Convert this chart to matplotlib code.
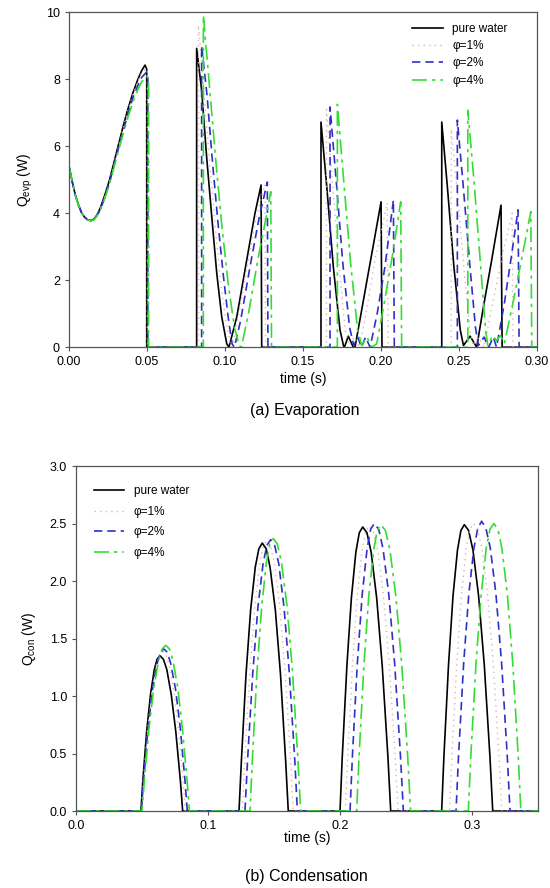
import numpy as np
import matplotlib
matplotlib.use('Agg')
import matplotlib.pyplot as plt

plt.rcParams['font.family'] = ['Liberation Sans', 'DejaVu Sans']
plt.rcParams['mathtext.fontset'] = 'custom'
plt.rcParams['mathtext.rm'] = 'Liberation Sans'

# ---------------- (a) Evaporation: Q_evp (W) vs time (s) ----------------
t_start = [0.000, 0.002, 0.004, 0.006, 0.008, 0.010, 0.012, 0.014, 0.016, 0.018, 0.020,
           0.023, 0.026, 0.029, 0.032, 0.035, 0.038, 0.041, 0.044, 0.0465]

t_evp_pure = t_start + [0.0487, 0.0498, 0.0498,
              0.0818, 0.0818, 0.0850, 0.0882, 0.0915, 0.0947, 0.0979, 0.1011, 0.1025, 0.1075, 0.1139, 0.1192, 0.1231, 0.1235,
              0.1615, 0.1615, 0.1652, 0.1694, 0.1737, 0.1759, 0.1765, 0.1790, 0.1822, 0.1833, 0.1865, 0.1908, 0.1951, 0.2000, 0.2006,
              0.2389, 0.2389, 0.2425, 0.2467, 0.2508, 0.2528, 0.2571, 0.2613, 0.2656, 0.2709, 0.2769, 0.2776, 0.3000]
q_evp_pure = [5.40, 4.95, 4.55, 4.25, 4.02, 3.88, 3.80, 3.78, 3.82, 3.95, 4.15,
              4.55, 5.00, 5.55, 6.10, 6.65, 7.15, 7.60, 7.98, 8.25,
              8.42, 8.30, 0.0,
              0.0, 8.92, 7.67, 5.68, 3.89, 2.20, 0.90, 0.10, 0.0, 0.90, 2.60, 4.00, 4.84, 0.0,
              0.0, 6.72, 4.79, 2.40, 0.51, 0.05, 0.0, 0.33, 0.0, 0.0, 0.83, 1.95, 3.06, 4.34, 0.0,
              0.0, 6.72, 4.79, 2.40, 0.51, 0.05, 0.33, 0.0, 1.20, 2.60, 4.24, 0.0, 0.0]

t_evp_1 = t_start + [0.0492, 0.0502, 0.0502,
           0.0830, 0.0830, 0.0865, 0.0900, 0.0935, 0.0970, 0.1005, 0.1035, 0.1045, 0.1085, 0.1150, 0.1200, 0.1255, 0.1260,
           0.1650, 0.1650, 0.1688, 0.1730, 0.1770, 0.1795, 0.1830, 0.1860, 0.1900, 0.1960, 0.2040, 0.2046,
           0.2450, 0.2450, 0.2488, 0.2530, 0.2570, 0.2590, 0.2625, 0.2660, 0.2710, 0.2780, 0.2840, 0.2846, 0.3000]
q_evp_1 = [5.40, 4.95, 4.55, 4.25, 4.02, 3.88, 3.80, 3.78, 3.82, 3.95, 4.12,
           4.50, 4.95, 5.50, 6.05, 6.60, 7.10, 7.55, 7.92, 8.18,
           8.32, 8.20, 0.0,
           0.0, 9.60, 7.60, 5.60, 3.70, 2.00, 0.80, 0.05, 0.0, 0.90, 2.60, 3.90, 4.85, 0.0,
           0.0, 7.10, 5.00, 2.50, 0.50, 0.05, 0.30, 0.0, 0.90, 2.60, 4.30, 0.0,
           0.0, 6.50, 4.70, 2.40, 0.50, 0.05, 0.30, 0.0, 1.20, 2.80, 4.00, 0.0, 0.0]

t_evp_2 = t_start + [0.0495, 0.0505, 0.0505,
           0.0850, 0.0850, 0.0885, 0.0920, 0.0955, 0.0990, 0.1020, 0.1045, 0.1060, 0.1100, 0.1160, 0.1220, 0.1271, 0.1275,
           0.1673, 0.1673, 0.1712, 0.1755, 0.1798, 0.1825, 0.1850, 0.1875, 0.1900, 0.1930, 0.1975, 0.2025, 0.2079, 0.2085,
           0.2489, 0.2489, 0.2527, 0.2570, 0.2605, 0.2624, 0.2660, 0.2690, 0.2720, 0.2740, 0.2790, 0.2835, 0.2878, 0.2885, 0.3000]
q_evp_2 = [5.40, 4.95, 4.55, 4.25, 4.02, 3.88, 3.80, 3.78, 3.82, 3.94, 4.10,
           4.48, 4.92, 5.45, 6.00, 6.50, 7.00, 7.45, 7.80, 8.05,
           8.20, 8.10, 0.0,
           0.0, 9.00, 7.50, 5.50, 3.70, 2.10, 0.90, 0.10, 0.0, 0.80, 2.40, 3.90, 4.93, 0.0,
           0.0, 7.17, 5.00, 2.50, 0.60, 0.05, 0.30, 0.0, 0.30, 0.0, 1.00, 2.40, 4.39, 0.0,
           0.0, 6.78, 4.80, 2.40, 0.60, 0.05, 0.30, 0.0, 0.30, 0.0, 1.30, 2.70, 4.10, 0.0, 0.0]

t_evp_4 = t_start + [0.0500, 0.0510, 0.0510,
           0.0861, 0.0861, 0.0900, 0.0940, 0.0980, 0.1020, 0.1060, 0.1090, 0.1105, 0.1150, 0.1210, 0.1260, 0.1293, 0.1298,
           0.1720, 0.1720, 0.1760, 0.1805, 0.1850, 0.1876, 0.1910, 0.1940, 0.1972, 0.2020, 0.2075, 0.2126, 0.2132,
           0.2556, 0.2556, 0.2595, 0.2637, 0.2670, 0.2685, 0.2715, 0.2740, 0.2765, 0.2790, 0.2840, 0.2900, 0.2960, 0.2966, 0.3000]
q_evp_4 = [5.40, 4.95, 4.55, 4.25, 4.02, 3.88, 3.80, 3.77, 3.80, 3.92, 4.08,
           4.45, 4.88, 5.40, 5.92, 6.42, 6.90, 7.33, 7.68, 7.92,
           8.10, 8.00, 0.0,
           0.0, 9.90, 7.80, 5.60, 3.60, 1.90, 0.60, 0.05, 0.0, 1.00, 2.60, 3.80, 4.64, 0.0,
           0.0, 7.25, 5.00, 2.50, 0.50, 0.05, 0.30, 0.0, 0.10, 1.30, 2.80, 4.34, 0.0,
           0.0, 7.07, 5.00, 2.50, 0.50, 0.05, 0.35, 0.20, 0.35, 0.10, 1.20, 2.60, 4.05, 0.0, 0.0]

# ---------------- (b) Condensation: Q_con (W) vs time (s) ----------------
t_con_pure = [0.0, 0.0492, 0.0506, 0.0535, 0.0564, 0.0593, 0.0614, 0.0636, 0.0662, 0.0688, 0.0722, 0.0756, 0.0791, 0.0808,
              0.1235, 0.1253, 0.1288, 0.1323, 0.1358, 0.1385, 0.1411, 0.1441, 0.1470, 0.1510, 0.1549, 0.1588, 0.1608,
              0.2000, 0.2017, 0.2052, 0.2086, 0.2120, 0.2146, 0.2172, 0.2204, 0.2236, 0.2278, 0.2320, 0.2363, 0.2384,
              0.2770, 0.2787, 0.2822, 0.2856, 0.2890, 0.2916, 0.2942, 0.2974, 0.3007, 0.3050, 0.3093, 0.3136, 0.3157, 0.35]
q_con_pure = [0.0, 0.0, 0.26, 0.69, 1.01, 1.23, 1.32, 1.35, 1.32, 1.23, 1.01, 0.69, 0.26, 0.0,
              0.0, 0.44, 1.19, 1.75, 2.12, 2.28, 2.33, 2.28, 2.12, 1.75, 1.19, 0.44, 0.0,
              0.0, 0.47, 1.26, 1.85, 2.25, 2.42, 2.47, 2.42, 2.25, 1.85, 1.26, 0.47, 0.0,
              0.0, 0.47, 1.27, 1.87, 2.27, 2.44, 2.49, 2.44, 2.27, 1.87, 1.27, 0.47, 0.0, 0.0]

t_con_1 = [0.0, 0.0494, 0.0510, 0.0542, 0.0575, 0.0607, 0.0631, 0.0655, 0.0681, 0.0707, 0.0742, 0.0776, 0.0811, 0.0828,
           0.1260, 0.1279, 0.1316, 0.1353, 0.1390, 0.1417, 0.1445, 0.1475, 0.1505, 0.1545, 0.1585, 0.1625, 0.1645,
           0.2040, 0.2058, 0.2094, 0.2130, 0.2166, 0.2193, 0.2220, 0.2253, 0.2286, 0.2330, 0.2374, 0.2418, 0.2440,
           0.2830, 0.2848, 0.2884, 0.2920, 0.2956, 0.2983, 0.3010, 0.3042, 0.3075, 0.3118, 0.3161, 0.3204, 0.3225, 0.35]
q_con_1 = [0.0, 0.0, 0.26, 0.71, 1.04, 1.26, 1.36, 1.39, 1.36, 1.26, 1.04, 0.71, 0.26, 0.0,
           0.0, 0.45, 1.20, 1.76, 2.14, 2.30, 2.35, 2.30, 2.14, 1.76, 1.20, 0.45, 0.0,
           0.0, 0.47, 1.26, 1.86, 2.26, 2.43, 2.48, 2.43, 2.26, 1.86, 1.26, 0.47, 0.0,
           0.0, 0.48, 1.28, 1.88, 2.28, 2.45, 2.50, 2.45, 2.28, 1.88, 1.28, 0.48, 0.0, 0.0]

t_con_2 = [0.0, 0.0495, 0.0512, 0.0546, 0.0580, 0.0614, 0.0640, 0.0665, 0.0692, 0.0718, 0.0754, 0.0790, 0.0825, 0.0843,
           0.1280, 0.1300, 0.1339, 0.1378, 0.1417, 0.1446, 0.1475, 0.1505, 0.1536, 0.1576, 0.1616, 0.1657, 0.1677,
           0.2076, 0.2094, 0.2131, 0.2168, 0.2205, 0.2232, 0.2260, 0.2293, 0.2326, 0.2370, 0.2414, 0.2458, 0.2480,
           0.2879, 0.2898, 0.2937, 0.2976, 0.3015, 0.3044, 0.3073, 0.3105, 0.3138, 0.3181, 0.3224, 0.3267, 0.3288, 0.35]
q_con_2 = [0.0, 0.0, 0.27, 0.72, 1.06, 1.28, 1.38, 1.41, 1.38, 1.28, 1.06, 0.72, 0.27, 0.0,
           0.0, 0.45, 1.20, 1.77, 2.15, 2.31, 2.36, 2.31, 2.15, 1.77, 1.20, 0.45, 0.0,
           0.0, 0.48, 1.28, 1.88, 2.28, 2.45, 2.50, 2.45, 2.28, 1.88, 1.28, 0.48, 0.0,
           0.0, 0.48, 1.29, 1.89, 2.29, 2.46, 2.52, 2.46, 2.29, 1.89, 1.29, 0.48, 0.0, 0.0]

t_con_4 = [0.0, 0.0500, 0.0518, 0.0554, 0.0590, 0.0626, 0.0653, 0.0680, 0.0707, 0.0734, 0.0770, 0.0805, 0.0841, 0.0859,
           0.1318, 0.1336, 0.1371, 0.1407, 0.1442, 0.1468, 0.1495, 0.1526, 0.1557, 0.1599, 0.1640, 0.1681, 0.1702,
           0.2126, 0.2144, 0.2181, 0.2218, 0.2255, 0.2282, 0.2310, 0.2344, 0.2378, 0.2423, 0.2468, 0.2513, 0.2535,
           0.2972, 0.2991, 0.3030, 0.3069, 0.3107, 0.3136, 0.3165, 0.3196, 0.3227, 0.3268, 0.3309, 0.3350, 0.3370, 0.35]
q_con_4 = [0.0, 0.0, 0.27, 0.73, 1.08, 1.31, 1.41, 1.44, 1.41, 1.31, 1.08, 0.73, 0.27, 0.0,
           0.0, 0.45, 1.21, 1.78, 2.16, 2.32, 2.37, 2.32, 2.16, 1.78, 1.21, 0.45, 0.0,
           0.0, 0.47, 1.27, 1.87, 2.27, 2.44, 2.49, 2.44, 2.27, 1.87, 1.27, 0.47, 0.0,
           0.0, 0.48, 1.28, 1.88, 2.28, 2.45, 2.50, 2.45, 2.28, 1.88, 1.28, 0.48, 0.0, 0.0]

labels = ['pure water', 'φ=1%', 'φ=2%', 'φ=4%']

# estilos de linea para cada serie
styles = [dict(color='black', lw=1.2, ls='-'),
          dict(color='#dcb4b4', lw=1.0, ls=(0, (1, 3))),
          dict(color='#3030c8', lw=1.2, ls=(0, (5, 3))),
          dict(color='#33dd33', lw=1.2, ls=(0, (9, 3, 2, 3)))]

fig = plt.figure(figsize=(5.5, 8.88), dpi=100)


def style_axes(ax):
    for s in ax.spines.values():
        s.set_color('#555555')
        s.set_linewidth(0.9)
    ax.tick_params(direction='out', length=3, width=0.8, color='#555555', labelsize=9)


# (a) Evaporation
ax1 = fig.add_axes([0.1255, 0.609, 0.851, 0.3773])
evp = [(t_evp_pure, q_evp_pure), (t_evp_1, q_evp_1), (t_evp_2, q_evp_2), (t_evp_4, q_evp_4)]
for (t, q), lab, st in zip(evp, labels, styles):
    ax1.plot(t, q, label=lab, **st)
ax1.set_xlim(0, 0.30)
ax1.set_ylim(0, 10)
ax1.set_xticks(np.arange(0, 0.301, 0.05))
ax1.set_xticklabels(['0.00', '0.05', '0.10', '0.15', '0.20', '0.25', '0.30'])
ax1.set_yticks([0, 2, 4, 6, 8, 10])
ax1.set_xlabel('time (s)', fontsize=10, labelpad=3)
ax1.set_ylabel(r'Q$_\mathregular{evp}$ (W)', fontsize=10, labelpad=8)
style_axes(ax1)
ax1.legend(loc='upper right', bbox_to_anchor=(0.96, 1.0), frameon=False, fontsize=8.5,
           handlelength=2.6, labelspacing=0.45)

# (b) Condensation
ax2 = fig.add_axes([0.1382, 0.0867, 0.84, 0.3885])
con = [(t_con_pure, q_con_pure), (t_con_1, q_con_1), (t_con_2, q_con_2), (t_con_4, q_con_4)]
for (t, q), lab, st in zip(con, labels, styles):
    ax2.plot(t, q, label=lab, **st)
ax2.set_xlim(0, 0.35)
ax2.set_ylim(0, 3.0)
ax2.set_xticks([0.0, 0.1, 0.2, 0.3])
ax2.set_xticklabels(['0.0', '0.1', '0.2', '0.3'])
ax2.set_yticks(np.arange(0, 3.01, 0.5))
ax2.set_yticklabels(['0.0', '0.5', '1.0', '1.5', '2.0', '2.5', '3.0'])
ax2.set_xlabel('time (s)', fontsize=10, labelpad=-1)
ax2.set_ylabel(r'Q$_\mathregular{con}$ (W)', fontsize=10, labelpad=8)
style_axes(ax2)
ax2.legend(loc='upper left', bbox_to_anchor=(0.015, 0.975), frameon=False, fontsize=8.5,
           handlelength=2.6, labelspacing=0.72)

fig.text(0.555, 0.538, '(a) Evaporation', ha='center', va='center', fontsize=11.5)
fig.text(0.557, 0.0124, '(b) Condensation', ha='center', va='center', fontsize=11.5)

fig.savefig('out.png', dpi=100)
